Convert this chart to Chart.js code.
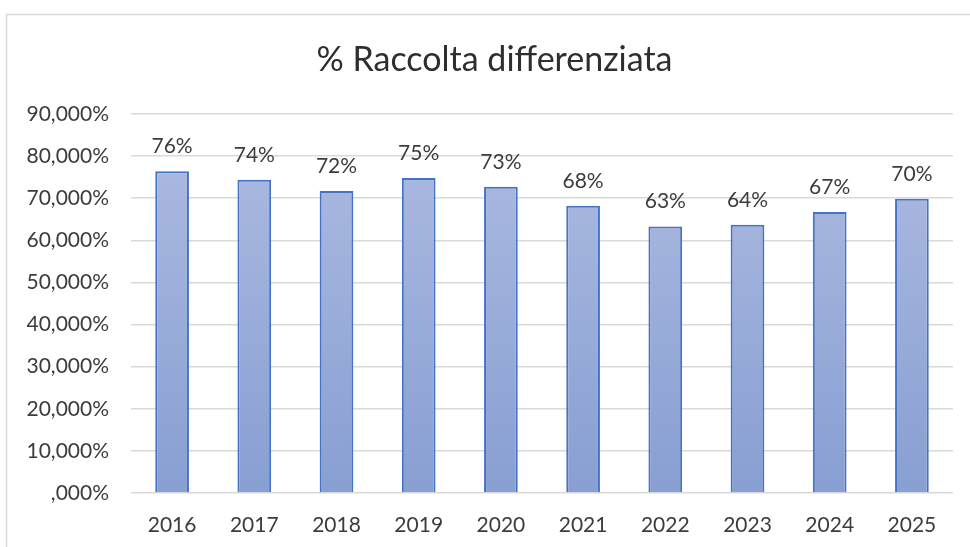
<!DOCTYPE html>
<html>
<head>
<meta charset="utf-8">
<script src="https://cdn.jsdelivr.net/npm/chart.js@4"></script>
<style>
  html, body { margin: 0; padding: 0; background: #ffffff; }
  #wrap { position: relative; width: 970px; height: 547px; }
  canvas { display: block; }
</style>
</head>
<body>
<div id="wrap"><canvas id="c" width="970" height="547"></canvas></div>
<script>
const chartTitle = "% Raccolta differenziata";
const years = ["2016", "2017", "2018", "2019", "2020", "2021", "2022", "2023", "2024", "2025"];
const values = [76.4, 74.4, 71.7, 74.8, 72.7, 68.2, 63.3, 63.7, 66.7, 69.9];
const labels = ["76%", "74%", "72%", "75%", "73%", "68%", "63%", "64%", "67%", "70%"];
const yMin = 0, yMax = 90, yStep = 10;

const FONT = "Lato, 'Open Sans', sans-serif";
const TEXT = "#3c3c3c";

const frame = {
  id: "frame",
  beforeDraw(chart) {
    const ctx = chart.ctx;
    ctx.save();
    ctx.fillStyle = "#ffffff";
    ctx.fillRect(0, 0, chart.width, chart.height);
    ctx.strokeStyle = "#d9d9d9";
    ctx.lineWidth = 1.5;
    ctx.strokeRect(6.5, 14.5, 1200, 1200);
    ctx.restore();
  },
  afterDraw(chart) {
    const ctx = chart.ctx;
    ctx.save();
    ctx.font = "34px " + FONT;
    ctx.fillStyle = "#2e2e2e";
    ctx.textAlign = "center";
    ctx.textBaseline = "alphabetic";
    ctx.fillText(chartTitle, 494.5, 71);
    ctx.restore();
  }
};

const barLabels = {
  id: "barLabels",
  afterDatasetsDraw(chart) {
    const ctx = chart.ctx;
    const meta = chart.getDatasetMeta(0);
    ctx.save();
    ctx.font = "21px " + FONT;
    ctx.fillStyle = TEXT;
    ctx.textAlign = "center";
    ctx.textBaseline = "alphabetic";
    meta.data.forEach((bar, i) => {
      ctx.fillText(labels[i], bar.x, bar.y - 18);
    });
    ctx.restore();
  }
};

new Chart(document.getElementById("c"), {
  type: "bar",
  data: {
    labels: years,
    datasets: [{
      data: values,
      backgroundColor(context) {
        const ca = context.chart.chartArea;
        if (!ca) return "#9aaddb";
        const g = context.chart.ctx.createLinearGradient(0, ca.top + 50, 0, ca.bottom);
        g.addColorStop(0, "#a9b8e0");
        g.addColorStop(1, "#889fd2");
        return g;
      },
      borderColor: "#4472c4",
      borderWidth: 2,
      categoryPercentage: 1,
      barPercentage: 0.41
    }]
  },
  options: {
    responsive: false,
    animation: false,
    devicePixelRatio: 1,
    layout: { padding: { left: 0, right: 17, top: 114, bottom: 0 } },
    plugins: {
      legend: { display: false },
      tooltip: { enabled: false },
      title: { display: false }
    },
    scales: {
      x: {
        grid: { display: false, drawTicks: false },
        border: { display: false },
        afterFit(scale) { scale.height = 54; },
        ticks: { color: TEXT, font: { family: FONT, size: 21 }, padding: 20 }
      },
      y: {
        min: yMin,
        max: yMax,
        grid: { color: "#d9d9d9", lineWidth: 1.5, drawTicks: false },
        border: { display: false },
        afterFit(scale) { scale.width = 131; },
        ticks: {
          stepSize: yStep,
          color: TEXT,
          padding: 22,
          font: { family: FONT, size: 21 },
          callback(v) {
            return v === 0 ? ",000%" : v + ",000%";
          }
        }
      }
    }
  },
  plugins: [frame, barLabels]
});
</script>
</body>
</html>
